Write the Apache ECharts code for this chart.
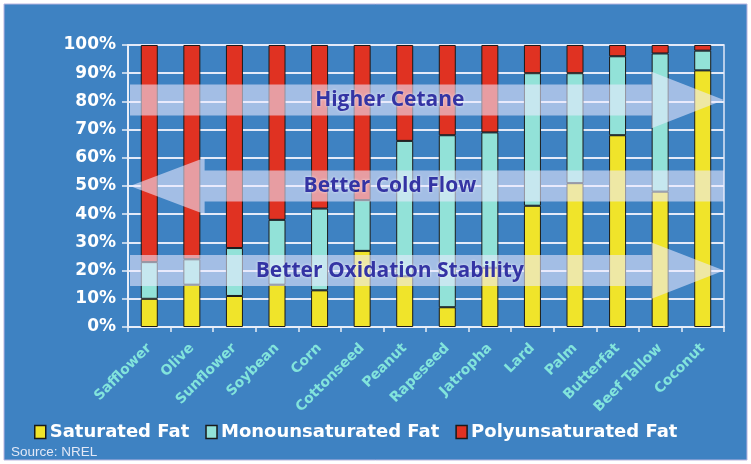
<!DOCTYPE html>
<html>
<head>
<meta charset="utf-8">
<script src="https://cdn.jsdelivr.net/npm/echarts@6/dist/echarts.min.js"></script>
<style>
  html, body { margin: 0; padding: 0; background: #ffffff; }
  #chart { width: 751px; height: 464px; }
</style>
</head>
<body>
<div id="chart"></div>
<script>
// Fatty acid make-up of common biodiesel feedstocks (percent of total fat)
const categories = ['Safflower', 'Olive', 'Sunflower', 'Soybean', 'Corn', 'Cottonseed', 'Peanut',
  'Rapeseed', 'Jatropha', 'Lard', 'Palm', 'Butterfat', 'Beef Tallow', 'Coconut'];
const saturated = [10, 15, 11, 15, 13, 27, 18, 7, 21, 43, 51, 68, 48, 91];
const monounsaturated = [13, 9, 17, 23, 29, 18, 48, 61, 48, 47, 39, 28, 49, 7];
const polyunsaturated = [77, 76, 72, 62, 58, 55, 34, 32, 31, 10, 10, 4, 3, 2];
const yTicks = [0, 10, 20, 30, 40, 50, 60, 70, 80, 90, 100];

// Trend arrows drawn across the plot: label, direction and the percent level they sit at
const arrowLabels = ['Higher Cetane', 'Better Cold Flow', 'Better Oxidation Stability'];
const arrowDirections = ['right', 'left', 'right'];
const arrowCenters = [80.5, 50, 20];

const BG = '#3e82c2';
const YELLOW = '#f0e42a';
const TEAL = '#92e2d8';
const RED = '#e03222';

const chart = echarts.init(document.getElementById('chart'), null, { renderer: 'canvas' });

function barSeries(name, data, color) {
  return {
    name: name,
    type: 'bar',
    stack: 'fat',
    data: data,
    barWidth: 17,
    itemStyle: { color: color, borderColor: '#1a1a1a', borderWidth: 1 },
    emphasis: { disabled: true }
  };
}

chart.setOption({
  backgroundColor: '#ffffff',
  animation: false,
  grid: {
    left: 128, right: 27, top: 45, bottom: 137,
    show: true, borderColor: '#dfe6f6', borderWidth: 1.5, backgroundColor: 'transparent'
  },
  legend: {
    left: 29, top: 418,
    itemWidth: 11, itemHeight: 13, itemGap: 16,
    icon: 'rect',
    textStyle: { color: '#ffffff', fontFamily: 'DejaVu Sans', fontWeight: 'bold', fontSize: 18, padding: [0, 0, 0, -1] },
    itemStyle: { borderColor: '#1a1a1a', borderWidth: 1.5 },
    data: ['Saturated Fat', 'Monounsaturated Fat', 'Polyunsaturated Fat']
  },
  xAxis: {
    type: 'category',
    data: categories,
    axisLine: { lineStyle: { color: '#e8eef8', width: 2 } },
    axisTick: { show: true, length: 5, lineStyle: { color: '#e8eef8', width: 1.5 } },
    axisLabel: {
      rotate: 45, margin: 19, interval: 0,
      color: '#82e4dc', fontFamily: 'DejaVu Sans', fontWeight: 'bold', fontSize: 14
    }
  },
  yAxis: {
    type: 'value',
    min: yTicks[0], max: yTicks[yTicks.length - 1], interval: 10,
    axisLine: { show: true, lineStyle: { color: '#e8eef8', width: 2 } },
    axisTick: { show: true, length: 6, lineStyle: { color: '#e8eef8', width: 1.5 } },
    splitLine: { show: true, lineStyle: { color: '#e4eaf8', width: 2 } },
    axisLabel: {
      formatter: '{value}%', margin: 12,
      color: '#ffffff', fontFamily: 'DejaVu Sans', fontWeight: 'bold', fontSize: 17
    }
  },
  series: [
    barSeries('Saturated Fat', saturated, YELLOW),
    barSeries('Monounsaturated Fat', monounsaturated, TEAL),
    barSeries('Polyunsaturated Fat', polyunsaturated, RED)
  ]
});

// Positions derived from the axes so the arrows follow the scales
const px0 = chart.convertToPixel({ gridIndex: 0 }, [0, 0]);
const px13 = chart.convertToPixel({ gridIndex: 0 }, [13, 0]);
const step = (px13[0] - px0[0]) / 13;
const xAt = (i) => px0[0] + step * i;          // i in category units (0 = first bar center)
const yAt = (v) => chart.convertToPixel({ gridIndex: 0 }, [0, v])[1];

const plotLeft = xAt(-0.5) + 2;
const plotRight = xAt(13.5);
const overlayFill = 'rgba(236,234,255,0.58)';

const graphics = [];

// outer panel
graphics.push({
  type: 'rect', z: -100, silent: true,
  shape: { x: 4, y: 4, width: 743, height: 456 },
  style: { fill: BG, stroke: '#b8b4e0', lineWidth: 1 }
});

arrowLabels.forEach(function (label, k) {
  const c = arrowCenters[k];
  const bandTop = yAt(c + 5.5), bandBot = yAt(c - 5.5);
  const headTop = yAt(c + 10), headBot = yAt(c - 10);
  const yTip = yAt(c);
  let pts;
  if (arrowDirections[k] === 'right') {
    const xHead = xAt(11.8);
    pts = [[plotLeft, bandTop], [xHead, bandTop], [xHead, headTop], [plotRight, yTip],
      [xHead, headBot], [xHead, bandBot], [plotLeft, bandBot]];
  } else {
    const xHead = xAt(1.3);
    pts = [[plotRight, bandTop], [xHead, bandTop], [xHead, headTop], [plotLeft, yTip],
      [xHead, headBot], [xHead, bandBot], [plotRight, bandBot]];
  }
  graphics.push({
    type: 'polygon', z: 50, silent: true,
    shape: { points: pts },
    style: { fill: overlayFill }
  });
  graphics.push({
    type: 'text', z: 60, silent: true,
    x: xAt(5.65), y: yTip,
    style: {
      text: label, align: 'center', verticalAlign: 'middle',
      fill: '#3434a4', font: 'bold 21px "Open Sans"',
      textShadowColor: 'rgba(255,255,255,0.75)', textShadowBlur: 3
    }
  });
});

graphics.push({
  type: 'text', z: 60, silent: true,
  x: 11, y: 452,
  style: {
    text: 'Source: NREL', align: 'left', verticalAlign: 'middle',
    fill: '#e2e8f6', font: '13.5px "Liberation Sans"'
  }
});

chart.setOption({ graphic: graphics });
</script>
</body>
</html>
